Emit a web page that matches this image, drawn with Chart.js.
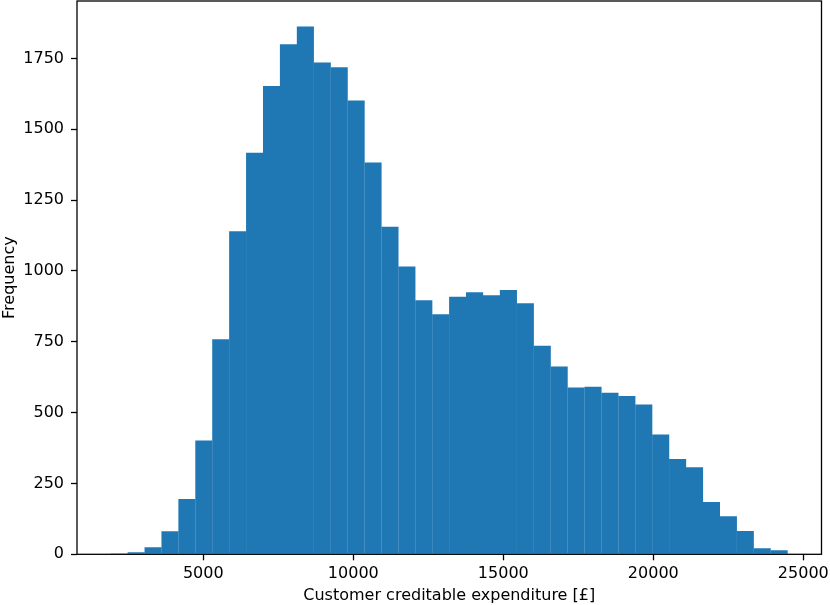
<!DOCTYPE html>
<html><head><meta charset="utf-8">
<script src="https://cdn.jsdelivr.net/npm/chart.js@4/dist/chart.umd.min.js"></script>
<style>html,body{margin:0;padding:0;background:#fff}canvas{display:block}</style>
</head><body>
<canvas id="c" width="830" height="605"></canvas>
<script>
// Histogram bin edges (41 edges -> 40 bins)
const binEdges = [1916, 2480, 3044, 3608, 4172, 4736, 5300, 5864, 6428, 6992, 7556,
  8120, 8684, 9248, 9812, 10376, 10940, 11504, 12068, 12632, 13196, 13760, 14324,
  14888, 15452, 16016, 16580, 17144, 17708, 18272, 18836, 19400, 19964, 20528,
  21092, 21656, 22220, 22784, 23348, 23912, 24476];
// Frequency per bin
const counts = [3, 7, 25, 81, 195, 402, 759, 1140, 1417, 1653,
  1800, 1863, 1736, 1719, 1602, 1383, 1156, 1016, 897, 847,
  909, 925, 914, 933, 886, 736, 663, 589, 591, 570,
  559, 529, 423, 336, 307, 185, 134, 82, 21, 14];
const xTickValues = [5000, 10000, 15000, 20000, 25000];
const yTickValues = [0, 250, 500, 750, 1000, 1250, 1500, 1750];
const xLabel = 'Customer creditable expenditure [£]';
const yLabel = 'Frequency';

const points = counts.map((c, i) => ({ x: (binEdges[i] + binEdges[i + 1]) / 2, y: c }));

const font = { family: 'DejaVu Sans', size: 16 };

const spines = {
  id: 'spines',
  afterDatasetsDraw(chart) {
    const a = chart.chartArea, ctx = chart.ctx;
    ctx.save();
    ctx.strokeStyle = '#000';
    ctx.lineWidth = 1.3;
    ctx.strokeRect(a.left, a.top, a.right - a.left, a.bottom - a.top);
    ctx.restore();
  }
};

new Chart(document.getElementById('c'), {
  type: 'bar',
  data: {
    datasets: [{
      data: points,
      backgroundColor: '#1f77b4',
      borderWidth: 0,
      barPercentage: 1.01,
      categoryPercentage: 1
    }]
  },
  options: {
    responsive: false,
    animation: false,
    devicePixelRatio: 1,
    layout: { padding: { left: 0, top: 1, right: 8.5, bottom: 0 } },
    plugins: { legend: { display: false }, tooltip: { enabled: false } },
    scales: {
      x: {
        type: 'linear',
        offset: false,
        min: 790, max: 25606,
        afterBuildTicks: s => { s.ticks = xTickValues.map(v => ({ value: v })); },
        afterFit: s => { s.height = 50.7; s.paddingLeft = 0; s.paddingRight = 0; },
        grid: { display: true, offset: false, drawOnChartArea: false, drawTicks: true, tickLength: 6, tickWidth: 1.3, tickColor: '#000' },
        border: { display: false },
        ticks: { font, color: '#000', padding: 4, maxRotation: 0, autoSkip: false, callback: v => String(v) },
        title: { display: true, text: xLabel, font, color: '#000', padding: { top: 0, bottom: 0 } }
      },
      y: {
        type: 'linear',
        min: 0, max: 1953,
        afterBuildTicks: s => { s.ticks = yTickValues.map(v => ({ value: v })); },
        afterFit: s => { s.width = 77; s.paddingTop = 0; s.paddingBottom = 0; },
        grid: { display: true, drawOnChartArea: false, drawTicks: true, tickLength: 6, tickWidth: 1.3, tickColor: '#000' },
        border: { display: false },
        ticks: { font, color: '#000', padding: 7, autoSkip: false, callback: v => String(v) },
        title: { display: true, text: yLabel, font, color: '#000', padding: { top: 0, bottom: 0 } }
      }
    }
  },
  plugins: [spines]
});
</script>
</body></html>
